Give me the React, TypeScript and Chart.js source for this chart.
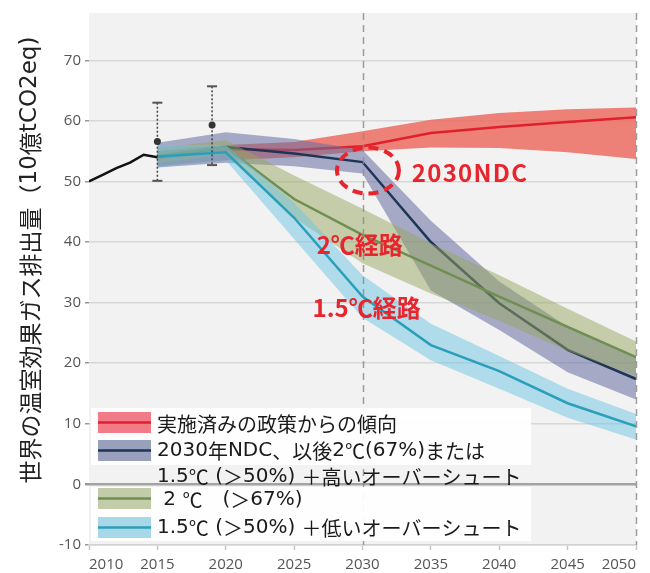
import { useEffect, useRef } from "react";
import { Chart, registerables } from "chart.js";

Chart.register(...registerables);

// ---- data ----------------------------------------------------------------
const historyYears = [2010, 2011, 2012, 2013, 2014, 2015];
const historyValues = [50.0, 51.1, 52.2, 53.1, 54.4, 54.0];

const scenarioYears = [2015, 2020, 2025, 2030, 2035, 2040, 2045, 2050];

// current policies
const policyUpper = [55.0, 56.0, 56.5, 58.3, 60.2, 61.3, 61.9, 62.2];
const policyMid = [53.8, 55.3, 55.2, 55.8, 58.0, 59.0, 59.8, 60.6];
const policyLower = [52.5, 53.5, 54.0, 55.0, 55.6, 55.5, 54.8, 53.7];

// 2030 NDC, then 2°C / 1.5°C with high overshoot
const ndcUpper = [56.4, 58.1, 57.0, 55.2, 43.5, 33.5, 26.0, 21.0];
const ndcMid = [54.0, 55.7, 54.6, 53.2, 40.0, 29.9, 22.2, 17.4];
const ndcLower = [52.3, 53.1, 52.5, 51.3, 32.0, 25.5, 18.5, 14.0];

// 2°C (>67%)
const twoUpper = [55.5, 56.8, 51.0, 45.5, 39.8, 34.5, 29.0, 23.6];
const twoMid = [54.3, 55.6, 47.1, 41.2, 36.1, 31.0, 26.0, 21.0];
const twoLower = [53.0, 54.5, 44.0, 36.5, 31.5, 27.0, 22.0, 17.9];

// 1.5°C (>50%) with low overshoot
const lowUpper = [56.0, 56.0, 46.5, 34.5, 26.5, 21.2, 15.8, 11.6];
const lowMid = [54.1, 54.8, 44.0, 31.0, 23.0, 18.7, 13.4, 9.6];
const lowLower = [52.3, 53.5, 40.5, 27.5, 20.5, 15.8, 11.0, 7.4];

// uncertainty ranges of observed emissions
const rangeYears = [2015, 2019];
const rangeMid = [56.6, 59.3];
const rangeLow = [50.1, 52.7];
const rangeHigh = [63.0, 65.7];

const yTicks = [-10, 0, 10, 20, 30, 40, 50, 60, 70];
const xTicks = [2010, 2015, 2020, 2025, 2030, 2035, 2040, 2045, 2050];
const markerYears = [2030, 2050];

const yTitle = "世界の温室効果ガス排出量（10億tCO2eq)";
const legendLabels = [
  ["実施済みの政策からの傾向"],
  ["2030年NDC、以後2℃(67%)または", "1.5℃ (＞50%) ＋高いオーバーシュート"],
  [" 2 ℃　(＞67%)"],
  ["1.5℃ (＞50%) ＋低いオーバーシュート"],
];
const calloutNdc = "2030NDC";
const calloutTwo = "2℃経路";
const calloutLow = "1.5℃経路";

// ---- styles --------------------------------------------------------------
const FONT_JP = '"Noto Sans CJK JP", "Noto Sans", sans-serif';
const FONT_LATIN = '"DejaVu Sans", "Noto Sans", sans-serif';
const FONT_NUM = '"Open Sans", "Noto Sans", sans-serif';
const RED = "#e8242c";

const bandColors = [
  "rgba(236, 96, 84, 0.78)",
  "rgba(104, 110, 160, 0.55)",
  "rgba(150, 165, 95, 0.5)",
  "rgba(110, 195, 225, 0.5)",
];
const swatchColors = ["#f17b86", "#98a0bb", "#c3cca8", "#a8d8e8"];
const lineColors = ["#e0202c", "#1f3556", "#6f8f52", "#2a9fb9"];

const pts = (xs: number[], ys: number[]) => xs.map((x, i) => ({ x, y: ys[i] }));

const scenarios = [
  [policyUpper, policyMid, policyLower],
  [ndcUpper, ndcMid, ndcLower],
  [twoUpper, twoMid, twoLower],
  [lowUpper, lowMid, lowLower],
];

// Japanese text mixes wide glyphs (kana, kanji, full-width symbols) with
// Verdana-like Latin; draw it run by run with the matching face.
const WIDE = /[\u2100-\u214F\u3000-\u9FFF\uFF00-\uFFEF]/;

function splitRuns(text: string) {
  const runs: { t: string; wide: boolean }[] = [];
  for (const ch of text) {
    const wide = WIDE.test(ch);
    const last = runs[runs.length - 1];
    if (last && last.wide === wide) last.t += ch;
    else runs.push({ t: ch, wide });
  }
  return runs;
}

function drawMixed(ctx: any, text: string, x: number, y: number, size: number, align: "left" | "center" = "left") {
  const runs = splitRuns(text);
  const fontFor = (wide: boolean) => `${size}px ${wide ? FONT_JP : FONT_LATIN}`;
  const widths = runs.map((r) => {
    ctx.font = fontFor(r.wide);
    return ctx.measureText(r.t).width;
  });
  const total = widths.reduce((a, b) => a + b, 0);
  let cx = align === "center" ? x - total / 2 : x;
  ctx.textAlign = "left";
  ctx.textBaseline = "middle";
  runs.forEach((r, i) => {
    ctx.font = fontFor(r.wide);
    ctx.fillText(r.t, cx, y);
    cx += widths[i];
  });
}

function buildDatasets() {
  const ds: any[] = [];
  scenarios.forEach(([up, mid, lo], k) => {
    const base = 20 - k * 4;
    ds.push({
      data: pts(scenarioYears, up),
      borderWidth: 0,
      pointRadius: 0,
      backgroundColor: bandColors[k],
      fill: "+1",
      order: base,
    });
    ds.push({
      data: pts(scenarioYears, lo),
      borderWidth: 0,
      pointRadius: 0,
      fill: false,
      order: base,
    });
    ds.push({
      data: pts(scenarioYears, mid),
      borderColor: lineColors[k],
      borderWidth: 2.5,
      pointRadius: 0,
      fill: false,
      order: base - 1,
    });
  });
  ds.push({
    data: pts(historyYears, historyValues),
    borderColor: "#111",
    borderWidth: 2.5,
    pointRadius: 0,
    fill: false,
    order: 0,
  });
  return ds;
}

const backgroundPlugin = {
  id: "plotBackground",
  beforeDraw(chart: any) {
    const { ctx, chartArea: a } = chart;
    ctx.save();
    ctx.fillStyle = "#ffffff";
    ctx.fillRect(0, 0, chart.width, chart.height);
    ctx.fillStyle = "#f2f2f2";
    ctx.fillRect(a.left, a.top, a.right - a.left, a.bottom - a.top);
    ctx.restore();
  },
};

const overlayPlugin = {
  id: "overlay",
  afterDatasetsDraw(chart: any) {
    const { ctx, chartArea: a, scales } = chart;
    const xs = scales.x;
    const ys = scales.y;
    ctx.save();

    // dashed year markers
    ctx.strokeStyle = "rgba(140, 140, 140, 0.85)";
    ctx.lineWidth = 1.5;
    ctx.setLineDash([7, 5]);
    markerYears.forEach((yr) => {
      const x = Math.round(xs.getPixelForValue(yr)) + 0.5;
      ctx.beginPath();
      ctx.moveTo(x, a.top);
      ctx.lineTo(x, a.bottom);
      ctx.stroke();
    });

    // uncertainty ranges
    rangeYears.forEach((yr, i) => {
      const x = xs.getPixelForValue(yr);
      const yTop = ys.getPixelForValue(rangeHigh[i]);
      const yBot = ys.getPixelForValue(rangeLow[i]);
      ctx.setLineDash([2, 2]);
      ctx.strokeStyle = "#444";
      ctx.lineWidth = 1.5;
      ctx.beginPath();
      ctx.moveTo(x, yTop);
      ctx.lineTo(x, yBot);
      ctx.stroke();
      ctx.setLineDash([]);
      ctx.strokeStyle = "#555";
      ctx.lineWidth = 2;
      [yTop, yBot].forEach((y) => {
        ctx.beginPath();
        ctx.moveTo(x - 5, y);
        ctx.lineTo(x + 5, y);
        ctx.stroke();
      });
      ctx.fillStyle = "#333";
      ctx.beginPath();
      ctx.arc(x, ys.getPixelForValue(rangeMid[i]), 3.5, 0, Math.PI * 2);
      ctx.fill();
    });

    // callouts
    ctx.setLineDash([10, 6]);
    ctx.strokeStyle = RED;
    ctx.lineWidth = 4;
    ctx.beginPath();
    ctx.ellipse(xs.getPixelForValue(2030.4), ys.getPixelForValue(51.8), 31, 23, 0, 0, Math.PI * 2);
    ctx.stroke();
    ctx.setLineDash([]);

    ctx.fillStyle = RED;
    ctx.font = `bold 24px ${FONT_JP}`;
    ctx.textAlign = "left";
    ctx.textBaseline = "middle";
    ctx.letterSpacing = "1.3px";
    ctx.fillText(calloutNdc, xs.getPixelForValue(2033.6), ys.getPixelForValue(51.4));
    ctx.letterSpacing = "0px";
    ctx.fillText(calloutTwo, xs.getPixelForValue(2026.65), ys.getPixelForValue(39.6));
    ctx.fillText(calloutLow, xs.getPixelForValue(2026.35), ys.getPixelForValue(29.2));
    ctx.restore();
  },
  afterDraw(chart: any) {
    const { ctx } = chart;
    ctx.save();

    // legend panels
    ctx.fillStyle = "rgba(255, 255, 255, 0.92)";
    ctx.fillRect(91, 408, 440, 57);
    ctx.fillRect(91, 487, 440, 54);

    const swatchRows = [412, 440, 488, 517];
    const textRows = [[424], [451, 477], [500], [528]];
    swatchRows.forEach((y, k) => {
      ctx.fillStyle = swatchColors[k];
      ctx.fillRect(98, y, 53, 21);
      ctx.strokeStyle = lineColors[k];
      ctx.lineWidth = 2.5;
      ctx.beginPath();
      ctx.moveTo(98, y + 10.5);
      ctx.lineTo(151, y + 10.5);
      ctx.stroke();
    });
    ctx.fillStyle = "#1a1a1a";
    legendLabels.forEach((lines, k) => {
      lines.forEach((t, j) => drawMixed(ctx, t, 157, textRows[k][j], 20));
    });

    // vertical axis title
    ctx.translate(30, 260);
    ctx.rotate(-Math.PI / 2);
    ctx.fillStyle = "#222";
    drawMixed(ctx, yTitle, 0, 0, 23, "center");
    ctx.restore();
  },
};

export default function App() {
  const ref = useRef<HTMLCanvasElement | null>(null);

  useEffect(() => {
    if (!ref.current) return;
    const chart = new Chart(ref.current, {
      type: "line",
      data: { datasets: buildDatasets() },
      options: {
        animation: false,
        responsive: false,
        devicePixelRatio: 1,
        layout: { padding: { top: 10, right: 14, left: 0, bottom: 0 } },
        plugins: { legend: { display: false }, tooltip: { enabled: false } },
        elements: { line: { tension: 0 } },
        scales: {
          x: {
            type: "linear",
            min: 2010,
            max: 2050,
            afterBuildTicks: (axis: any) => {
              axis.ticks = xTicks.map((v) => ({ value: v }));
            },
            ticks: {
              align: "inner",
              color: "#555",
              padding: 6,
              maxRotation: 0,
              font: { family: FONT_NUM, size: 15 },
              callback: (v: any) => String(v),
            },
            grid: { drawOnChartArea: false, tickLength: 5, tickColor: "#c4c4c4", tickWidth: 1.5 },
            border: { color: "#d2d2d2", width: 1.5 },
            afterFit: (s: any) => {
              s.height = 28;
            },
          },
          y: {
            min: -10,
            max: 77.8,
            afterBuildTicks: (axis: any) => {
              axis.ticks = yTicks.map((v) => ({ value: v }));
            },
            ticks: {
              color: "#555",
              padding: 4,
              font: { family: FONT_NUM, size: 15 },
              callback: (v: any) => String(v),
            },
            grid: {
              color: (c: any) => (c.tick && c.tick.value === 0 ? "#a3a3a3" : "#d8d8d8"),
              lineWidth: (c: any) => (c.tick && c.tick.value === 0 ? 2.5 : 1.5),
              tickLength: 4,
              tickColor: "#999",
            },
            border: { display: false },
            afterFit: (s: any) => {
              s.width = 89;
            },
          },
        },
      } as any,
      plugins: [backgroundPlugin, overlayPlugin],
    });
    return () => chart.destroy();
  }, []);

  return (
    <div style={{ position: "fixed", left: 0, top: 0, width: 650, height: 573, background: "#fff" }}>
      <canvas ref={ref} width={650} height={573} style={{ display: "block" }} />
    </div>
  );
}
